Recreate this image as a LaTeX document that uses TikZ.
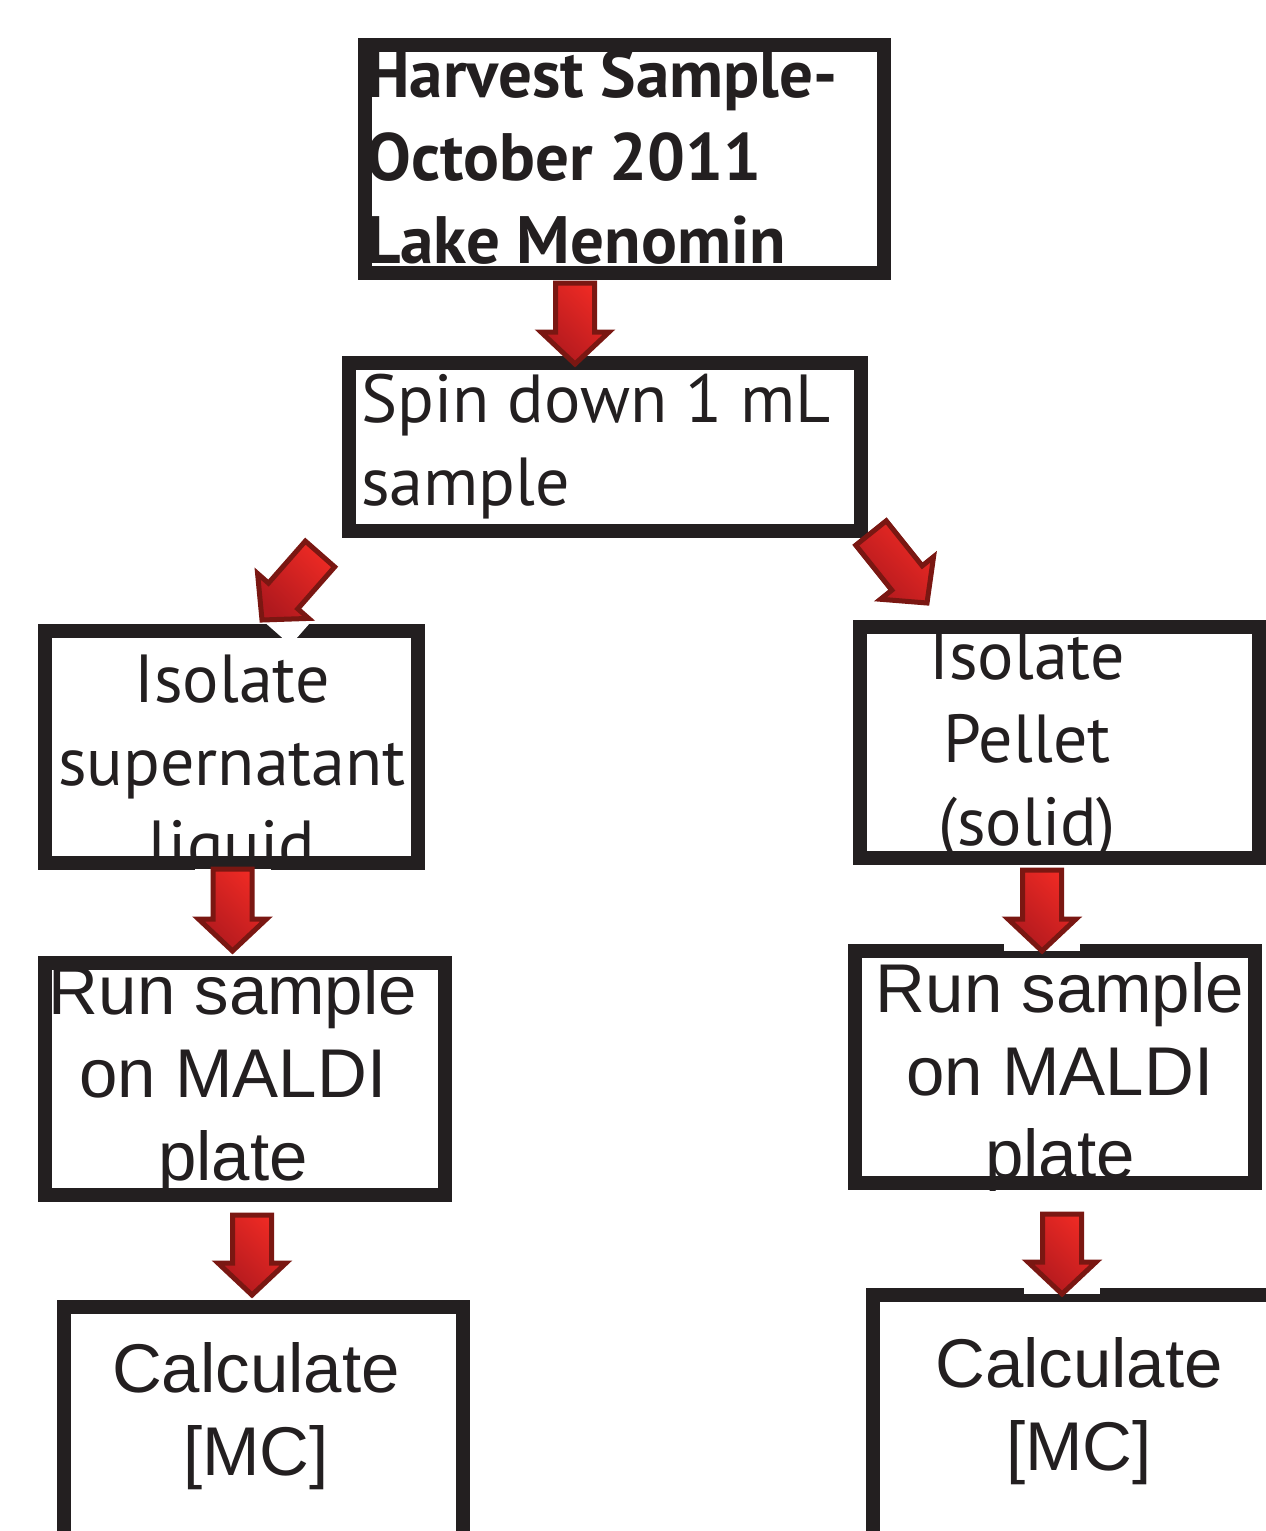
\documentclass[tikz,border=0pt]{standalone}
\usepackage{fontspec}
\usetikzlibrary{calc}
\newfontfamily\myriadfont{PT Sans}
\newfontfamily\arialfont{Liberation Sans}
\definecolor{boxline}{HTML}{231F20}
\definecolor{arrowedge}{HTML}{7A1712}
\definecolor{arrowlight}{HTML}{EE2A24}
\definecolor{arrowdark}{HTML}{B0191E}

\tikzset{
  stepbox/.style={draw=boxline, line width=14pt, inner sep=0pt},
  steptext/.style={text=boxline, inner sep=0pt, align=center, anchor=base},
  myriadtext/.style={font=\myriadfont\fontsize{68}{83}\selectfont},
  arialtext/.style={font=\arialfont\fontsize{69}{83}\selectfont},
  arrowhalo/.style={fill=white},
  redarrow/.style={draw=arrowedge, line width=5pt, line join=miter, top color=arrowlight, bottom color=arrowdark, shading angle=-45}
}

% fat red arrow from tail #2 to tip #3, #1 = options for the white halo
\newcommand{\blockarrow}[3][]{%
  \coordinate (ba-t) at (#2);
  \coordinate (ba-p) at (#3);
  \coordinate (ba-b) at ($(ba-p)!32pt!(ba-t)$);
  \path[arrowhalo,#1] ($(ba-t)!38pt!90:(ba-p)$) -- ($(ba-t)!38pt!-90:(ba-p)$)
    -- ($(ba-p)!38pt!90:(ba-t)$) -- ($(ba-p)!38pt!-90:(ba-t)$) -- cycle;
  \path[redarrow] ($(ba-t)!19.5pt!90:(ba-p)$) -- ($(ba-b)!19.5pt!-90:(ba-t)$)
    -- ($(ba-b)!34pt!-90:(ba-t)$) -- (ba-p) -- ($(ba-b)!34pt!90:(ba-t)$)
    -- ($(ba-b)!19.5pt!90:(ba-t)$) -- ($(ba-t)!19.5pt!-90:(ba-p)$) -- cycle;
}

\begin{document}
\begin{tikzpicture}[x=1pt,y=-1pt]
\useasboundingbox[fill=white] (0,0) rectangle (1266,1531);

% boxes
\node[stepbox, minimum width=519, minimum height=228] (harvest) at (624.5,159) {};
\node[stepbox, minimum width=512, minimum height=168] (spin) at (605,447) {};
\node[stepbox, minimum width=373, minimum height=232] (super) at (231.5,747) {};
\node[stepbox, minimum width=399, minimum height=231] (pellet) at (1059.5,742.5) {};
\node[stepbox, minimum width=400, minimum height=232] (runL) at (245,1079) {};
\node[stepbox, minimum width=400, minimum height=232] (runR) at (1055,1067) {};
\node[stepbox, minimum width=399, minimum height=238] (calcL) at (263.5,1426) {};
\node[stepbox, minimum width=407, minimum height=250] (calcR) at (1076.5,1420) {};

% texts, cut off at the box edges (anchor = baseline of the last line)
\begin{scope}
  \clip (harvest.north west) rectangle (harvest.south east);
  \node[steptext, align=left, anchor=base west, font=\myriadfont\bfseries\fontsize{67}{83}\selectfont] (harvest-text) at (366,263) {Harvest Sample-\\October 2011\\Lake Menomin};
\end{scope}
\begin{scope}
  \clip (spin.north west) rectangle (spin.south east);
  \node[steptext, myriadtext, align=left, anchor=base west] (spin-text) at (361,505) {Spin down 1 mL\\sample};
\end{scope}
\begin{scope}
  \clip (super.north west) rectangle (super.south east);
  \node[steptext, myriadtext] (super-text) at (232,868) {Isolate\\supernatant\\liquid};
\end{scope}
\begin{scope}
  \clip (pellet.north west) rectangle (pellet.south east);
  \node[steptext, myriadtext] (pellet-text) at (1027,845) {Isolate\\Pellet\\(solid)};
\end{scope}
\begin{scope}
  \clip (runL.north west) rectangle (runL.south east);
  \node[steptext, arialtext] (runL-text) at (233,1180) {Run sample\\on MALDI\\plate};
\end{scope}
\begin{scope}
  \clip (runR.north west) rectangle (runR.south east);
  \node[steptext, arialtext] (runR-text) at (1060,1178) {Run sample\\on MALDI\\plate};
\end{scope}
\begin{scope}
  \clip (calcL.north west) rectangle (calcL.south east);
  \node[steptext, arialtext] (calcL-text) at (256,1475) {Calculate\\{}[MC]};
\end{scope}
\begin{scope}
  \clip (calcR.north west) rectangle (calcR.south east);
  \node[steptext, arialtext] (calcR-text) at (1079,1470) {Calculate\\{}[MC]};
\end{scope}

% arrows
\blockarrow[fill=none]{$(harvest.south)+(-49.5,3)$}{$(spin.north)+(-30,8)$}
\blockarrow{$(spin.south west)+(-22,16)$}{$(super.north)+(30.5,-4)$}
\blockarrow[fill=none]{$(spin.south east)+(3,-5)$}{$(pellet.north west)+(74,-17)$}
\blockarrow{$(super.south)+(1,-1)$}{$(runL.north)+(-12.5,-5)$}
\blockarrow{$(pellet.south)+(-17.5,5)$}{$(runR.north)+(-13,7)$}
\blockarrow{$(runL.south)+(7,13)$}{$(calcL.north)+(-11.5,-5)$}
\blockarrow{$(runR.south)+(7,24)$}{$(calcR.north)+(-14.5,6)$}

\end{tikzpicture}
\end{document}
